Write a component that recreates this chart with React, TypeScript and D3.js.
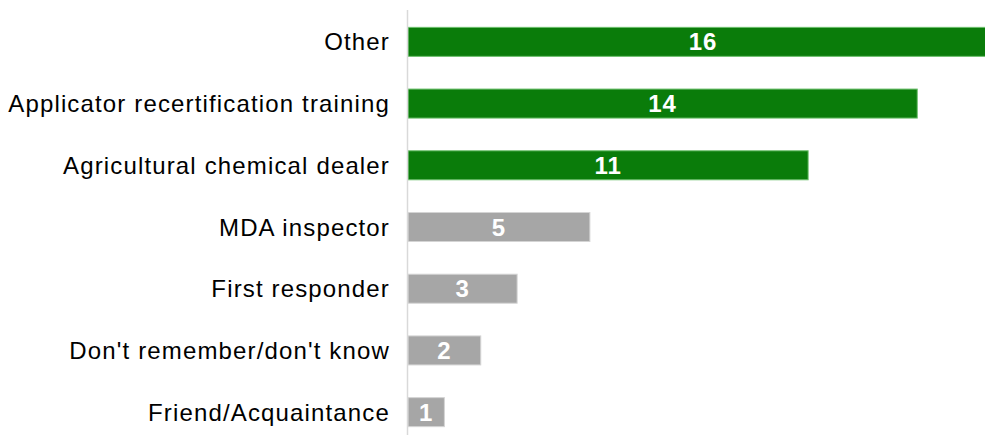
import React from "react";
import * as d3 from "d3";

const categories = [
  "Other",
  "Applicator recertification training",
  "Agricultural chemical dealer",
  "MDA inspector",
  "First responder",
  "Don't remember/don't know",
  "Friend/Acquaintance",
];
const values = [16, 14, 11, 5, 3, 2, 1];
const highlighted = [true, true, true, false, false, false, false];

const W = 985;
const H = 435;

export default function App() {
  const x = d3.scaleLinear().domain([0, 16]).range([408, 990]);
  const y = d3
    .scaleBand<string>()
    .domain(categories)
    .range([11, 443])
    .paddingInner(0.53)
    .paddingOuter(0.265);
  const bw = y.bandwidth();
  return (
    <svg
      width={W}
      height={H}
      style={{ position: "absolute", left: 0, top: 0, fontFamily: "Liberation Sans, Arial, sans-serif" }}
    >
      {categories.map((c, i) => {
        const y0 = y(c)!;
        const green = highlighted[i];
        return (
          <g key={c}>
            <rect
              x={x(0)}
              y={y0}
              width={x(values[i]) - x(0)}
              height={bw}
              fill={green ? "#0a7c0a" : "#a6a6a6"}
              stroke={green ? "#6cbf6c" : "#d4d4d4"}
              strokeWidth={1}
            />
            <text
              x={(x(0) + x(values[i])) / 2 + (i === 0 ? 4 : 0)}
              y={y0 + bw / 2}
              dy="0.36em"
              textAnchor="middle"
              fill="#ffffff"
              fontWeight="bold"
              fontSize={24}
              letterSpacing={1}
            >
              {values[i]}
            </text>
            <text
              x={390}
              y={y0 + bw / 2}
              dy="0.36em"
              textAnchor="end"
              fill="#000000"
              fontSize={24}
              letterSpacing={1.15}
            >
              {c}
            </text>
          </g>
        );
      })}
      <line x1={407.5} x2={407.5} y1={10} y2={H} stroke="#d9d9d9" strokeWidth={1.5} />
    </svg>
  );
}
